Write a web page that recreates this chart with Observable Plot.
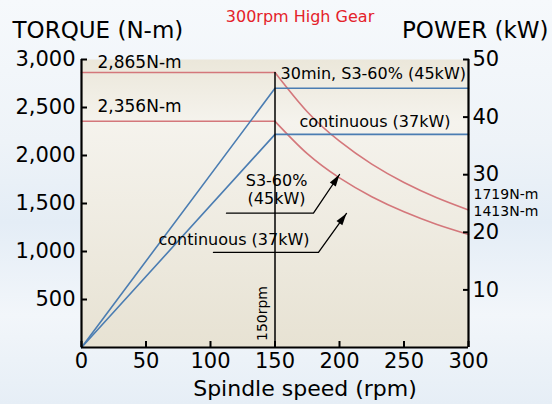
<!DOCTYPE html>
<html>
<head>
<meta charset="utf-8">
<script src="https://cdn.jsdelivr.net/npm/d3@7"></script>
<script src="https://cdn.jsdelivr.net/npm/@observablehq/plot@0.6"></script>
<style>
  html, body { margin: 0; padding: 0; }
  body {
    width: 552px; height: 404px; overflow: hidden;
    background: linear-gradient(to bottom, #f6f9fc 0%, #eef3f8 35%, #e4edf6 55%, #f2f6fa 78%, #e6eef6 100%);
  }
  #chart svg { display: block; }
</style>
</head>
<body>
<div id="chart"></div>
<script>
// ---- data ----
const flatSpeeds = [0, 150];
const flatTorqueS3 = [2865, 2865];
const flatTorqueCont = [2356, 2356];

const curveSpeeds = [150, 175, 200, 225, 250, 275, 300];
const curveTorqueS3 = [2865, 2456, 2149, 1910, 1719, 1563, 1433];
const curveTorqueCont = [2356, 2019, 1767, 1571, 1414, 1285, 1178];

const powerSpeeds = [0, 150, 300];
const powerS3 = [0, 45, 45];      // kW
const powerCont = [0, 37, 37];    // kW

const xTicks = [0, 50, 100, 150, 200, 250, 300];
const torqueTicks = [500, 1000, 1500, 2000, 2500, 3000];
const powerTicks = [10, 20, 30, 40, 50];
const kWtoNm = 60; // right axis: 50 kW lines up with 3,000 N-m

const baseSpeed = 150;

const torqueLabels = ["2,865N-m", "2,356N-m"];
const endLabels = ["1719N-m", "1413N-m"];

// ---- derived tables ----
const zipS = (xs, ys) => xs.map((s, i) => ({s, v: ys[i]}));
const flatS3 = zipS(flatSpeeds, flatTorqueS3);
const flatCont = zipS(flatSpeeds, flatTorqueCont);
const curveS3 = zipS(curveSpeeds, curveTorqueS3);
const curveCont = zipS(curveSpeeds, curveTorqueCont);
const pS3 = zipS(powerSpeeds, powerS3.map(p => p * kWtoNm));
const pCont = zipS(powerSpeeds, powerCont.map(p => p * kWtoNm));

// annotation anchor points (data coordinates)
const notesBig = [
  {s: 12.4, v: 2969, t: torqueLabels[0]},
  {s: 12.4, v: 2510, t: torqueLabels[1]}
];
const notesEnd = [
  {s: 303.9, v: 1594, t: endLabels[0]},
  {s: 303.9, v: 1417, t: endLabels[1]}
];
const notesSmall = [
  {s: 154.3, v: 2854, t: "30min, S3-60% (45kW)"},
  {s: 169, v: 2354, t: "continuous (37kW)"},
  {s: 59.7, v: 1125, t: "continuous (37kW)"}
];
const notesMid = [
  {s: 151.2, v: 1734, t: "S3-60%"},
  {s: 151.2, v: 1552, t: "(45kW)"}
];
const leader1 = [{s: 112.4, v: 1399}, {s: 179.8, v: 1399}, {s: 200, v: 1802}];
const leader2 = [{s: 102.3, v: 990}, {s: 183.7, v: 990}, {s: 205.4, v: 1396}];
const heads = [{s: 200, v: 1802, r: 34}, {s: 205.4, v: 1396, r: 36}];
const rpmNote = [{s: 140.3, v: 354, t: "150rpm"}];

const RED = "#d4777b";
const BLUE = "#4b7db2";

const headShape = {
  draw(ctx, l) {
    ctx.moveTo(0, -l);
    ctx.lineTo(-3.6, 0);
    ctx.lineTo(3.6, 0);
    ctx.closePath();
  }
};

const chart = Plot.plot({
  width: 552,
  height: 404,
  marginTop: 59,
  marginRight: 84,
  marginBottom: 57,
  marginLeft: 81,
  style: {background: "transparent", fontFamily: "DejaVu Sans", color: "black"},
  x: {domain: [0, 300]},
  y: {domain: [0, 3000]},
  marks: [
    Plot.frame({fill: "url(#plotbg)", stroke: null}),
    // torque (red)
    Plot.line(flatS3, {x: "s", y: "v", stroke: RED, strokeWidth: 1.6}),
    Plot.line(flatCont, {x: "s", y: "v", stroke: RED, strokeWidth: 1.6}),
    Plot.line(curveS3, {x: "s", y: "v", stroke: RED, strokeWidth: 1.6, curve: "natural"}),
    Plot.line(curveCont, {x: "s", y: "v", stroke: RED, strokeWidth: 1.6, curve: "natural"}),
    // power (blue)
    Plot.line(pS3, {x: "s", y: "v", stroke: BLUE, strokeWidth: 1.6}),
    Plot.line(pCont, {x: "s", y: "v", stroke: BLUE, strokeWidth: 1.6}),
    // 150 rpm line
    Plot.ruleX([baseSpeed], {y1: 0, y2: flatTorqueS3[0], stroke: "black", strokeWidth: 1.5}),
    Plot.text(rpmNote, {x: "s", y: "v", text: "t", rotate: -90, fontSize: 14, textAnchor: "middle", lineAnchor: "middle"}),
    // axis lines
    Plot.ruleX([0, 300], {stroke: "black", strokeWidth: 2.2}),
    Plot.ruleY([0], {stroke: "black", strokeWidth: 2.2}),
    Plot.axisX(xTicks, {anchor: "bottom", tickSize: -6, tickPadding: 12, fontSize: 21, strokeWidth: 2, label: null}),
    Plot.axisY(torqueTicks, {anchor: "left", tickSize: -6, tickPadding: 12, fontSize: 21, strokeWidth: 2, label: null}),
    Plot.axisY(powerTicks.map(p => p * kWtoNm), {anchor: "right", tickSize: -6, tickPadding: 10, fontSize: 21, strokeWidth: 2, label: null, tickFormat: d => String(d / kWtoNm)}),
    // annotations
    Plot.text(notesBig, {x: "s", y: "v", text: "t", textAnchor: "start", lineAnchor: "middle", fontSize: 17}),
    Plot.text(notesEnd, {x: "s", y: "v", text: "t", textAnchor: "start", lineAnchor: "middle", fontSize: 14}),
    Plot.text(notesSmall, {x: "s", y: "v", text: "t", textAnchor: "start", lineAnchor: "middle", fontSize: 16}),
    Plot.text(notesMid, {x: "s", y: "v", text: "t", textAnchor: "middle", lineAnchor: "middle", fontSize: 16}),
    Plot.line(leader1, {x: "s", y: "v", stroke: "black", strokeWidth: 1.3}),
    Plot.line(leader2, {x: "s", y: "v", stroke: "black", strokeWidth: 1.3}),
    Plot.vector(heads, {x: "s", y: "v", rotate: "r", length: 12, anchor: "end", shape: headShape, fill: "black", stroke: null}),
    // titles
    Plot.text(["TORQUE (N-m)"], {frameAnchor: "top-left", text: d => d, textAnchor: "start", lineAnchor: "middle", dx: -69, dy: -29, fontSize: 23}),
    Plot.text(["POWER (kW)"], {frameAnchor: "top-right", text: d => d, textAnchor: "end", lineAnchor: "middle", dx: 80, dy: -29, fontSize: 23}),
    Plot.text(["300rpm High Gear"], {frameAnchor: "top", text: d => d, lineAnchor: "middle", dx: 25, dy: -43, fontSize: 16, fill: "#e4222a"}),
    Plot.text(["Spindle speed (rpm)"], {frameAnchor: "bottom", text: d => d, lineAnchor: "middle", dx: 30, dy: 41, fontSize: 22})
  ]
});

// plot-area gradient
const svg = d3.select(chart);
const defs = svg.insert("defs", ":first-child");
const g = defs.append("linearGradient").attr("id", "plotbg").attr("x1", 0).attr("y1", 0).attr("x2", 0).attr("y2", 1);
g.append("stop").attr("offset", "0%").attr("stop-color", "#ebe7da");
g.append("stop").attr("offset", "22%").attr("stop-color", "#f5f3ed");
g.append("stop").attr("offset", "100%").attr("stop-color", "#e7e2d3");

document.getElementById("chart").appendChild(chart);
</script>
</body>
</html>
